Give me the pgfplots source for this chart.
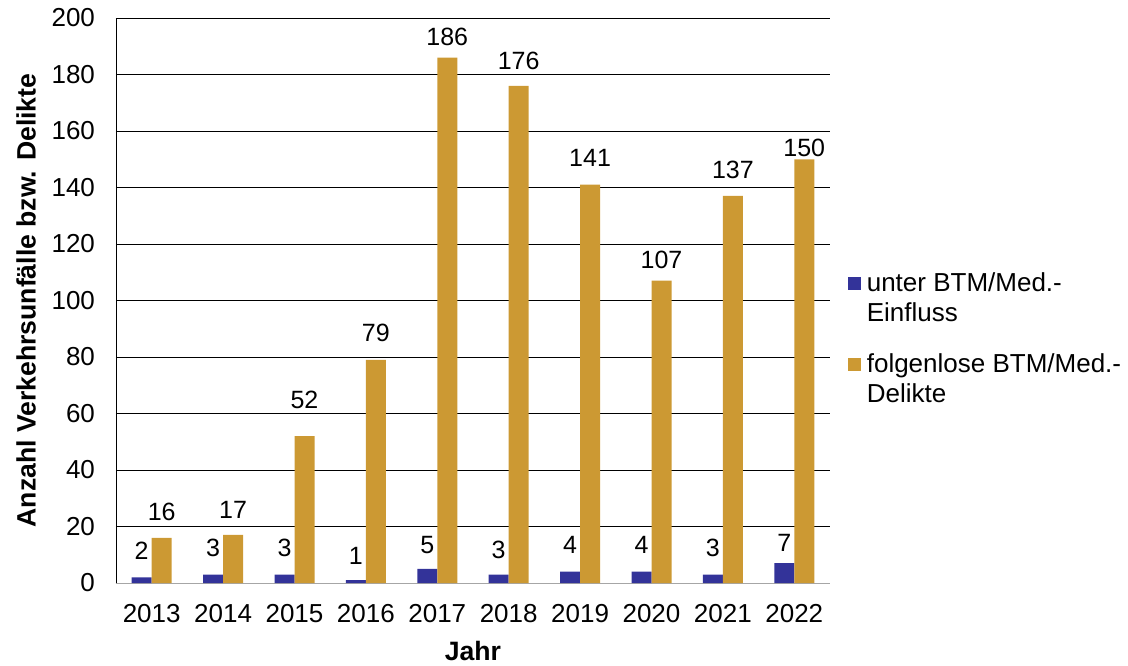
\documentclass[border=0pt]{standalone}
\usepackage{fontspec}
\setmainfont{Liberation Sans}
\usepackage{pgfplots}
\usepackage{pgfplotstable}
\pgfplotsset{compat=1.18}
\definecolor{cblue}{HTML}{333399}
\definecolor{corange}{HTML}{CC9933}
\pgfplotstableread{
x y off
0 2 9
1 3 9
2 3 9
3 1 8
4 5 7.5
5 3 8
6 4 9
7 4 9
8 3 9
9 7 6
}\blue
\pgfplotstableread{
x y off
0 16 8.5
1 17 8
2 52 14
3 79 9
4 186 6
5 176 8
6 141 9
7 107 6
8 137 8.5
9 150 1.5
}\orange
\begin{document}
\begin{tikzpicture}
\useasboundingbox (0,0) rectangle (564pt,332.5pt);
\begin{axis}[
  at={(58pt,41pt)}, anchor=south west,
  scale only axis,
  width=357pt, height=282.5pt,
  ybar=0pt, bar width=10pt,
  xmin=-0.5, xmax=9.5,
  ymin=0, ymax=200,
  xtick={0,...,9},
  xticklabels={2013,2014,2015,2016,2017,2018,2019,2020,2021,2022},
  ytick={0,20,...,200},
  major tick length=0pt,
  axis x line*=bottom, axis y line*=left,
  x axis line style={draw=gray!70, -},
  y axis line style={draw=black, -},
  ymajorgrids, grid style={black, line width=0.5pt},
  /pgf/number format/assume math mode=true,
  tick label style={font=\fontsize{13}{15}\selectfont},
  yticklabel style={xshift=-7pt},
  xticklabel style={yshift=-7pt},
  xlabel={\textbf{Jahr}},
  ylabel={\textbf{Anzahl Verkehrsunfälle bzw. Delikte}},
  label style={font=\fontsize{13.3}{15}\selectfont},
  xlabel style={yshift=-2.5pt},
  ylabel style={yshift=1pt},
  nodes near coords,
  visualization depends on={\thisrow{off} \as \myoff},
  every node near coord/.append style={font=\fontsize{12.5}{14}\selectfont, anchor=base, yshift=\myoff pt, black},
  clip=false,
  legend style={draw=none, at={(1.016,0.561)}, anchor=north west, font=\fontsize{13}{15}\selectfont,
    nodes={align=left, inner sep=1pt}, row sep=12.5pt,
    /tikz/every odd column/.append style={column sep=2pt}},
  legend cell align=left,
  legend image code/.code={\fill[#1] (0pt,4pt) rectangle (6.5pt,10.5pt);},
]
\addplot[fill=cblue, draw=none] table[x=x, y=y] {\blue};
\addlegendentry{unter BTM/Med.-\\Einfluss}
\addplot[fill=corange, draw=none] table[x=x, y=y] {\orange};
\addlegendentry{folgenlose BTM/Med.-\\Delikte}
\end{axis}
\end{tikzpicture}
\end{document}
